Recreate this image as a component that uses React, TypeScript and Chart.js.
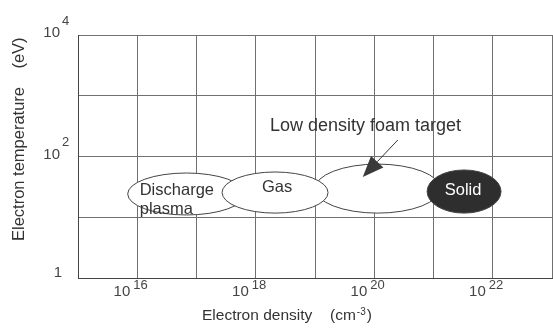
import React, { useEffect, useRef } from "react";
import { Chart, registerables } from "chart.js";

Chart.register(...registerables);

// Regions (draw order), electron density [cm^-3] and temperature [eV] extents
const regionNames = ["Discharge plasma", "Low density foam target", "Gas", "Solid"];
const densityMin = [6.9e15, 1.0e19, 2.7e17, 7.8e20];
const densityMax = [6.6e17, 1.3e21, 1.66e19, 1.38e22];
const tempMin = [10.9, 11.7, 11.7, 11.7];
const tempMax = [53.5, 75, 55.6, 60];

// Text labels inside the plot
const labelTexts = ["Discharge", "plasma", "Gas", "Solid", "Low density foam target"];
const labelDensity = [1.1e16, 1.1e16, 1.27e18, 1.55e21, 1.74e18];
const labelTemp = [28, 13.2, 31.5, 28, 318];

// Arrow (tail -> tip)
const arrowDensity = [2.5e20, 6.4e19];
const arrowTemp = [187, 46];

// Axis ticks
const xGridDecades = [15, 16, 17, 18, 19, 20, 21, 22, 23];
const yGridDecades = [0, 1, 2, 3, 4];
const xLabelDecades = [16, 18, 20, 22];
const yLabelDecades = [0, 2, 4];

const FONT = "'Liberation Sans', Arial, Helvetica, sans-serif";

const overlay = {
  id: "overlay",
  afterDatasetsDraw(chart: any) {
    const { ctx, scales } = chart;
    const xs = scales.x;
    const ys = scales.y;
    const area = chart.chartArea;
    ctx.save();
    ctx.beginPath();
    ctx.rect(area.left, area.top, area.right - area.left, area.bottom - area.top);
    ctx.clip();
    regionNames.forEach((name, i) => {
      const x0 = xs.getPixelForValue(densityMin[i]);
      const x1 = xs.getPixelForValue(densityMax[i]);
      const y0 = ys.getPixelForValue(tempMin[i]);
      const y1 = ys.getPixelForValue(tempMax[i]);
      ctx.beginPath();
      ctx.ellipse((x0 + x1) / 2, (y0 + y1) / 2, Math.abs(x1 - x0) / 2, Math.abs(y1 - y0) / 2, 0, 0, Math.PI * 2);
      ctx.fillStyle = name === "Solid" ? "#2e2e2e" : "#ffffff";
      ctx.fill();
      ctx.lineWidth = 1;
      ctx.strokeStyle = "#444";
      ctx.stroke();
    });
    ctx.restore();

    // labels
    ctx.save();
    ctx.textBaseline = "middle";
    ctx.textAlign = "left";
    labelTexts.forEach((t, i) => {
      const px = xs.getPixelForValue(labelDensity[i]);
      const py = ys.getPixelForValue(labelTemp[i]);
      ctx.font = (t === "Low density foam target" ? "18px " : "16.5px ") + FONT;
      ctx.fillStyle = t === "Solid" ? "#ffffff" : "#333";
      ctx.fillText(t, px, py);
    });
    ctx.restore();

    // arrow
    const tx = xs.getPixelForValue(arrowDensity[0]);
    const ty = ys.getPixelForValue(arrowTemp[0]);
    const hx = xs.getPixelForValue(arrowDensity[1]);
    const hy = ys.getPixelForValue(arrowTemp[1]);
    const ang = Math.atan2(hy - ty, hx - tx);
    const headLen = 21;
    const headHalf = 8.5;
    const bx = hx - headLen * Math.cos(ang);
    const by = hy - headLen * Math.sin(ang);
    ctx.save();
    ctx.strokeStyle = "#333";
    ctx.lineWidth = 1;
    ctx.beginPath();
    ctx.moveTo(tx, ty);
    ctx.lineTo(bx, by);
    ctx.stroke();
    ctx.beginPath();
    ctx.moveTo(hx, hy);
    ctx.lineTo(bx + headHalf * Math.sin(ang), by - headHalf * Math.cos(ang));
    ctx.lineTo(bx - headHalf * Math.sin(ang), by + headHalf * Math.cos(ang));
    ctx.closePath();
    ctx.fillStyle = "#3a3a3a";
    ctx.fill();
    ctx.restore();
  },
  afterDraw(chart: any) {
    const { ctx, scales } = chart;
    const xs = scales.x;
    const ys = scales.y;
    ctx.save();
    ctx.fillStyle = "#444";
    ctx.textBaseline = "middle";
    // x tick labels
    xLabelDecades.forEach((d) => {
      const px = xs.getPixelForValue(Math.pow(10, d));
      ctx.font = "15px " + FONT;
      ctx.textAlign = "right";
      ctx.fillText("10", px - 7, 292);
      ctx.font = "13px " + FONT;
      ctx.textAlign = "left";
      ctx.fillText(String(d), px - 4, 285);
    });
    // y tick labels
    yLabelDecades.forEach((d) => {
      const py = ys.getPixelForValue(Math.pow(10, d));
      if (d === 0) {
        ctx.font = "15px " + FONT;
        ctx.textAlign = "right";
        ctx.fillText("1", 62, py - 5);
        return;
      }
      ctx.font = "15px " + FONT;
      ctx.textAlign = "right";
      ctx.fillText("10", 60, py - 2);
      ctx.font = "13px " + FONT;
      ctx.textAlign = "left";
      ctx.fillText(String(d), 62, py - 14);
    });
    // axis titles
    ctx.fillStyle = "#333";
    ctx.font = "15.5px " + FONT;
    ctx.textAlign = "left";
    ctx.fillText("Electron density", 202, 316);
    ctx.fillText("(cm", 330, 316);
    const w = ctx.measureText("(cm").width;
    ctx.font = "10px " + FONT;
    ctx.fillText("-3", 330 + w + 1, 312);
    const w2 = ctx.measureText("-3").width;
    ctx.font = "15.5px " + FONT;
    ctx.fillText(")", 330 + w + w2 + 2, 316);

    ctx.save();
    ctx.translate(19, 0);
    ctx.rotate(-Math.PI / 2);
    ctx.textAlign = "center";
    ctx.font = "16.5px " + FONT;
    ctx.fillText("Electron temperature", -164, 0);
    ctx.fillText("(eV)", -53, 0);
    ctx.restore();
    ctx.restore();
  },
};

export default function App() {
  const ref = useRef<HTMLCanvasElement | null>(null);
  useEffect(() => {
    if (!ref.current) return;
    const chart = new Chart(ref.current, {
      type: "scatter",
      data: { datasets: [] },
      options: {
        animation: false,
        responsive: false,
        devicePixelRatio: 1,
        layout: { padding: { top: 35, right: 1, left: 0, bottom: 0 } },
        plugins: { legend: { display: false }, tooltip: { enabled: false } },
        scales: {
          x: {
            type: "logarithmic",
            min: 1e15,
            max: 1e23,
            afterBuildTicks: (s: any) => {
              s.ticks = xGridDecades.map((d) => ({ value: Math.pow(10, d) }));
            },
            afterFit: (s: any) => {
              s.height = 54;
            },
            ticks: { display: false },
            grid: { color: "#707070", lineWidth: 1, drawTicks: false },
            border: { color: "#444", width: 1 },
          },
          y: {
            type: "logarithmic",
            min: 1,
            max: 1e4,
            afterBuildTicks: (s: any) => {
              s.ticks = yGridDecades.map((d) => ({ value: Math.pow(10, d) }));
            },
            afterFit: (s: any) => {
              s.width = 78;
            },
            ticks: { display: false },
            grid: { color: "#707070", lineWidth: 1, drawTicks: false },
            border: { color: "#444", width: 1 },
          },
        },
      },
      plugins: [overlay],
    });
    return () => chart.destroy();
  }, []);
  return (
    <div style={{ position: "absolute", left: 0, top: 0, background: "#fff" }}>
      <canvas ref={ref} width={553} height={332} style={{ display: "block" }} />
    </div>
  );
}
